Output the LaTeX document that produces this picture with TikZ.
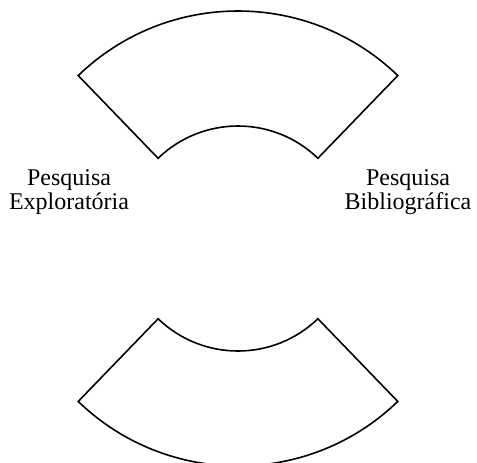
\documentclass[tikz,border=0pt]{standalone}
\usepackage{fontspec}
\setmainfont{Liberation Serif}

\begin{document}
\begin{tikzpicture}[x=0.5pt,y=-0.5pt,every node/.style={align=center,inner sep=0pt,font=\fontsize{12}{11.7}\selectfont},sector/.style={draw,line width=0.8pt,line join=miter}]
    \useasboundingbox (0,0) rectangle (477,462);
    \clip (0,0) rectangle (477,462);
    % upper ring sector
    \draw[sector] (238,241) ++(226:230) arc[start angle=226,end angle=314,radius=230]
        -- ++(134:115) arc[start angle=314,end angle=226,radius=115] -- cycle;
    % lower ring sector
    \draw[sector] (238,236) ++(46:230) arc[start angle=46,end angle=134,radius=230]
        -- ++(314:115) arc[start angle=134,end angle=46,radius=115] -- cycle;
    \node (expl) at (69,192) {Pesquisa\\Exploratória};
    \node (bibl) at (408,192) {Pesquisa\\Bibliográfica};
  \end{tikzpicture}
\end{document}
